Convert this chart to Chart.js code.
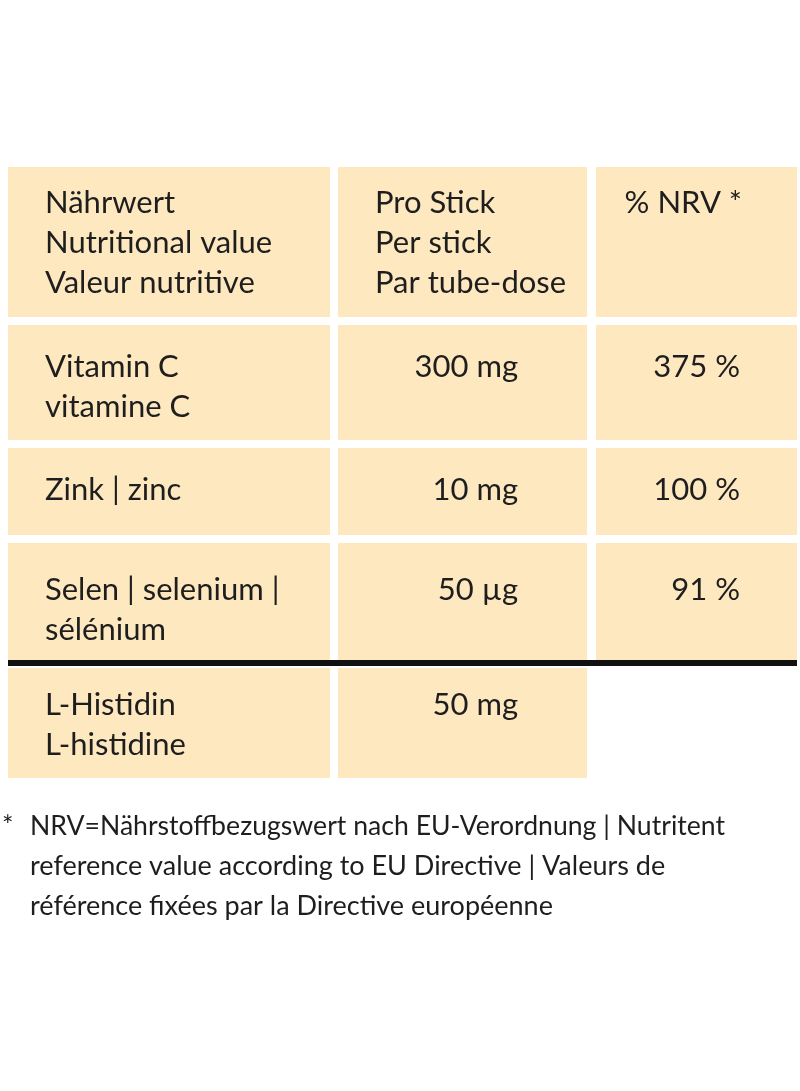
<!DOCTYPE html>
<html><head><meta charset="utf-8">
<script src="https://cdn.jsdelivr.net/npm/chart.js@4"></script>
<style>html,body{margin:0;padding:0;background:#fff}#wrap{width:800px;height:1091px}</style>
</head><body><div id="wrap"><canvas id="c"></canvas></div>
<script>
// table content
const headers = [["Nährwert","Nutritional value","Valeur nutritive"],["Pro Stick","Per stick","Par tube-dose"],["% NRV *"]];
const nutrients = [["Vitamin C","vitamine C"],["Zink | zinc"],["Selen | selenium |","sélénium"],["L-Histidin","L-histidine"]];
const amounts = ["300 mg","10 mg","50 µg","50 mg"];
const nrv = ["375 %","100 %","91 %",""];
const footnote = ["NRV=Nährstoffbezugswert nach EU-Verordnung | Nutritent","reference value according to EU Directive | Valeurs de","référence fixées par la Directive européenne"];

// layout in page units
const colX = [[8,330],[338,587],[596,797]];
const rowY = [[167,317],[325,440],[448,535],[543,662],[668,778]];
const textY = [[203,243,283],[367,407],[490],[590,630],[705,745]];

const FILL = "#fde8c0", INK = "#1e1e1e";

const tablePlugin = {
  id:"table",
  afterDraw(chart){
    const {ctx, scales:{x,y}} = chart;
    const X = v=>x.getPixelForValue(v), Y = v=>y.getPixelForValue(v);
    ctx.save();
    rowY.forEach((r,ri)=>{
      colX.forEach((c,ci)=>{
        if(ri===4 && ci===2) return;
        ctx.fillStyle = FILL;
        ctx.fillRect(X(c[0]),Y(r[0]),X(c[1])-X(c[0]),Y(r[1])-Y(r[0]));
      });
    });
    // thick rule
    ctx.fillStyle = "#111";
    ctx.fillRect(X(8),Y(660),X(797)-X(8),Y(666)-Y(660));
    ctx.fillStyle = INK;
    ctx.font = "31px Lato";
    ctx.textBaseline = "middle";
    // header
    ctx.textAlign = "left";
    headers[0].forEach((t,i)=>ctx.fillText(t,X(45),Y(textY[0][i])));
    headers[1].forEach((t,i)=>ctx.fillText(t,X(375),Y(textY[0][i])));
    ctx.textAlign = "right";
    ctx.fillText(headers[2][0],X(742),Y(textY[0][0]));
    nutrients.forEach((lines,i)=>{
      ctx.textAlign = "left";
      lines.forEach((t,j)=>ctx.fillText(t,X(45),Y(textY[i+1][j])));
      ctx.textAlign = "right";
      ctx.fillText(amounts[i],X(518),Y(textY[i+1][0]));
      if(nrv[i]) ctx.fillText(nrv[i],X(740),Y(textY[i+1][0]));
    });
    ctx.textAlign = "left";
    ctx.font = "27px Lato";
    ctx.fillText("*",X(2),Y(826));
    footnote.forEach((t,i)=>ctx.fillText(t,X(30),Y(826+i*40),X(725)-X(30)));
    ctx.restore();
  }
};

new Chart(document.getElementById("c"),{
  type:"scatter",
  data:{datasets:[{data:[]}]},
  options:{
    responsive:true, maintainAspectRatio:false, animation:false,
    layout:{padding:0},
    plugins:{legend:{display:false},tooltip:{enabled:false}},
    scales:{
      x:{type:"linear",min:0,max:800,display:false},
      y:{type:"linear",min:0,max:1091,reverse:true,display:false}
    }
  },
  plugins:[tablePlugin]
});
</script></body></html>
